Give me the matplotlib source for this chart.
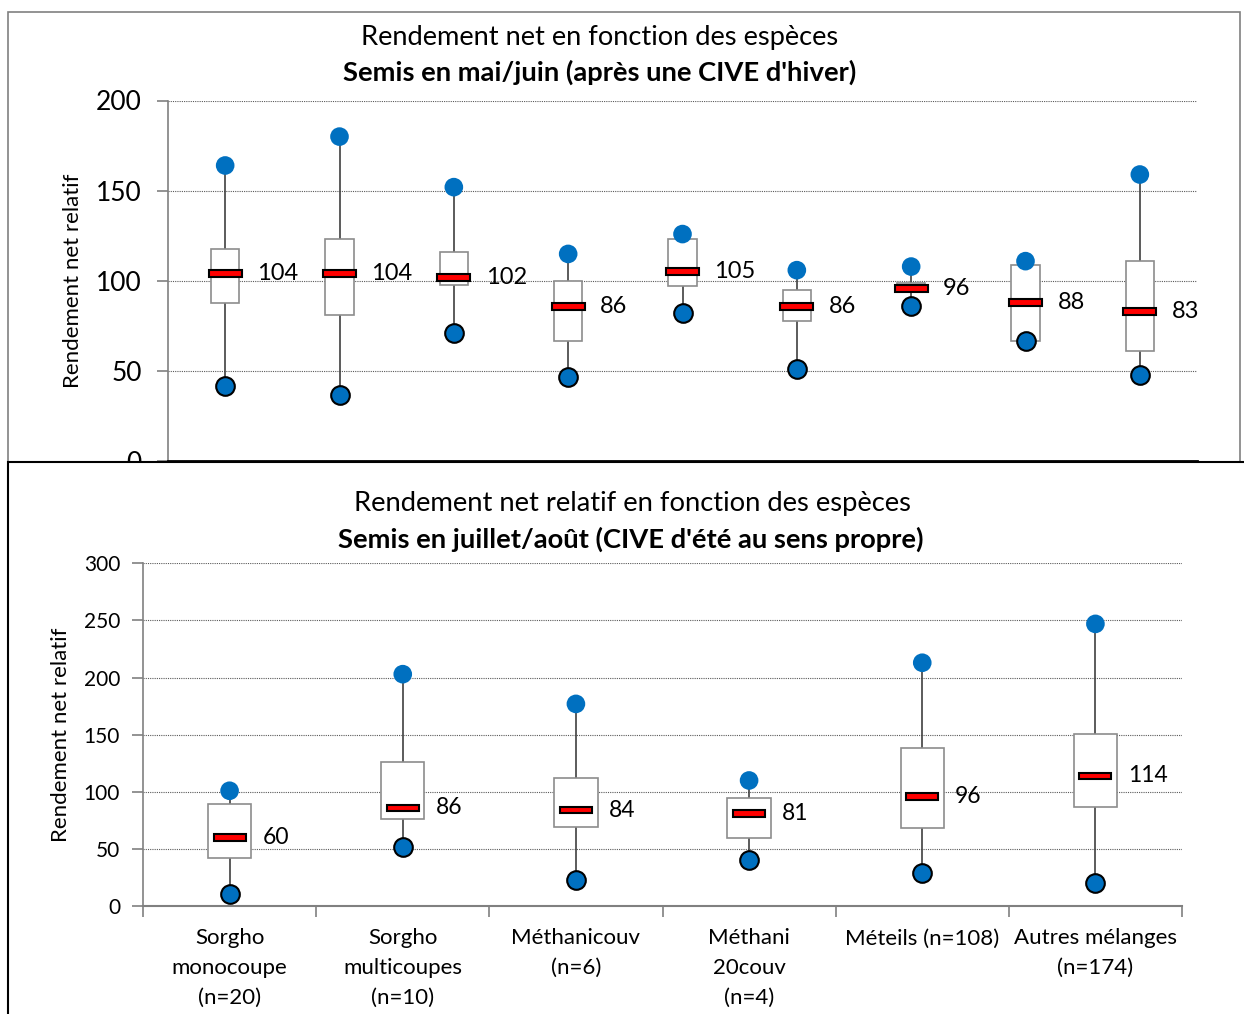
import matplotlib
matplotlib.use("Agg")
import matplotlib.pyplot as plt
from matplotlib.patches import Rectangle

plt.rcParams["font.family"] = ["Lato", "DejaVu Sans"]

W, H = 1244, 1014
BLUE = "#0070C0"
GRID = "#5a5a5a"

# ---- top panel: sowing in May/June ----
top_cats = ["c1", "c2", "c3", "c4", "c5", "c6", "c7", "c8", "c9"]
top_max = [164, 180, 152, 115, 126, 106, 108, 111, 159]
top_q3 = [118, 123, 116, 100, 123, 95, 99, 109, 111]
top_med = [104, 104, 102, 86, 105, 86, 96, 88, 83]
top_q1 = [88, 81, 98, 67, 97, 78, 94, 67, 61]
top_min = [42, 37, 71, 47, 82, 51, 86, 67, 48]

# ---- bottom panel: sowing in July/August ----
bot_cats = ["Sorgho\nmonocoupe\n(n=20)", "Sorgho\nmulticoupes\n(n=10)", "Méthanicouv\n(n=6)",
            "Méthani\n20couv\n(n=4)", "Méteils (n=108)", "Autres mélanges\n(n=174)"]
bot_max = [101, 203, 177, 110, 213, 247]
bot_q3 = [89, 126, 112, 95, 138, 151]
bot_med = [60, 86, 84, 81, 96, 114]
bot_q1 = [42, 76, 69, 60, 68, 87]
bot_min = [11, 52, 23, 40, 29, 20]


def px_axes(fig, left, right, top, bottom, z=0):
    return fig.add_axes([left / W, 1 - bottom / H, (right - left) / W, (bottom - top) / H], zorder=z)


def draw_panel(ax, cats, vmax, q3, med, q1, vmin, ymax, box_w, med_w, med_h, lab_dx, fs_lab):
    x = list(range(len(cats)))
    ax.vlines(x, vmin, vmax, color="#404040", lw=1.2, zorder=2)
    ax.bar(x, [a - b for a, b in zip(q3, q1)], bottom=q1, width=box_w, color="white",
           edgecolor="#8c8c8c", lw=1.2, zorder=3)
    ax.bar(x, med_h, bottom=[m - med_h / 2 for m in med], width=med_w, color="#ff0000",
           edgecolor="black", lw=1.5, zorder=4)
    ax.scatter(x, vmax, s=180, color=BLUE, edgecolors="none", zorder=5)
    ax.scatter(x, vmin, s=180, color=BLUE, edgecolors="black", linewidths=1.5, zorder=5)
    for xi, m in zip(x, med):
        ax.text(xi + lab_dx, m, str(m), fontsize=fs_lab, va="center", ha="left", zorder=6)
    ax.set_xlim(-0.5, len(cats) - 0.5)
    ax.set_ylim(0, ymax)
    ax.yaxis.grid(True, color=GRID, ls=(0, (1, 1)), lw=0.8)
    ax.set_axisbelow(True)
    for s in ("top", "right"):
        ax.spines[s].set_visible(False)
    ax.spines["left"].set_color("#808080")
    ax.spines["left"].set_linewidth(1.2)
    ax.set_xticks([i - 0.5 for i in range(len(cats) + 1)], minor=False)
    ax.set_xticklabels([])
    ax.tick_params(axis="y", length=8, color="#808080", width=1.2)
    ax.tick_params(axis="x", length=8, color="#808080", width=1.2)


fig = plt.figure(figsize=(W / 100, H / 100), dpi=100)

# outer frame of top chart
fig.patches.append(Rectangle((8 / W, 0), (1240 - 8) / W, 1 - 12 / H, transform=fig.transFigure,
                             fill=False, edgecolor="#808080", lw=1.2, zorder=0))

ax1 = px_axes(fig, 168, 1197, 100.5, 461.5, z=0)
draw_panel(ax1, top_cats, top_max, top_q3, top_med, top_q1, top_min, 200,
           0.25, 0.29, 3.9, 0.28, 17)
ax1.set_yticks([0, 50, 100, 150, 200])
ax1.tick_params(axis="y", labelsize=19, pad=11)
ax1.spines["bottom"].set_color("black")
ax1.spines["bottom"].set_linewidth(2)
ax1.set_ylabel("Rendement net relatif", fontsize=16)
ax1.yaxis.set_label_coords(-0.0826, 0.5)
fig.text(600 / W, 1 - 38 / H, "Rendement net en fonction des espèces", ha="center", va="center",
         fontsize=19.6)
fig.text(600 / W, 1 - 72 / H, "Semis en mai/juin (après une CIVE d'hiver)", ha="center", va="center",
         fontsize=19.7, fontweight="bold")

# white sheet of the lower chart, laid over the bottom of the upper one
fig.patches.append(Rectangle((8 / W, -0.01), 1.1, 1 - 462 / H + 0.01, transform=fig.transFigure,
                             facecolor="white", edgecolor="black", lw=1.5, zorder=1))

ax2 = px_axes(fig, 143, 1182, 563.3, 906.2, z=2)
ax2.patch.set_alpha(0)
draw_panel(ax2, bot_cats, bot_max, bot_q3, bot_med, bot_q1, bot_min, 300,
           0.25, 0.185, 5.7, 0.19, 16.5)
ax2.set_yticks([0, 50, 100, 150, 200, 250, 300])
ax2.tick_params(axis="y", labelsize=15, pad=8.5)
ax2.spines["bottom"].set_color("#808080")
ax2.spines["bottom"].set_linewidth(1.5)
ax2.set_xticks(range(len(bot_cats)), minor=True)
ax2.set_xticklabels(bot_cats, minor=True, fontsize=16, linespacing=1.6)
ax2.tick_params(axis="x", which="minor", length=0, pad=16)
ax2.set_ylabel("Rendement net relatif", fontsize=16)
ax2.yaxis.set_label_coords(-0.069, 0.5)
fig.text(632 / W, 1 - 504 / H, "Rendement net relatif en fonction des espèces", ha="center", va="center",
         fontsize=19.7, zorder=3)
fig.text(631 / W, 1 - 539 / H, "Semis en juillet/août (CIVE d'été au sens propre)", ha="center", va="center",
         fontsize=19.7, fontweight="bold", zorder=3)

fig.savefig("out.png", dpi=100, facecolor="white")
